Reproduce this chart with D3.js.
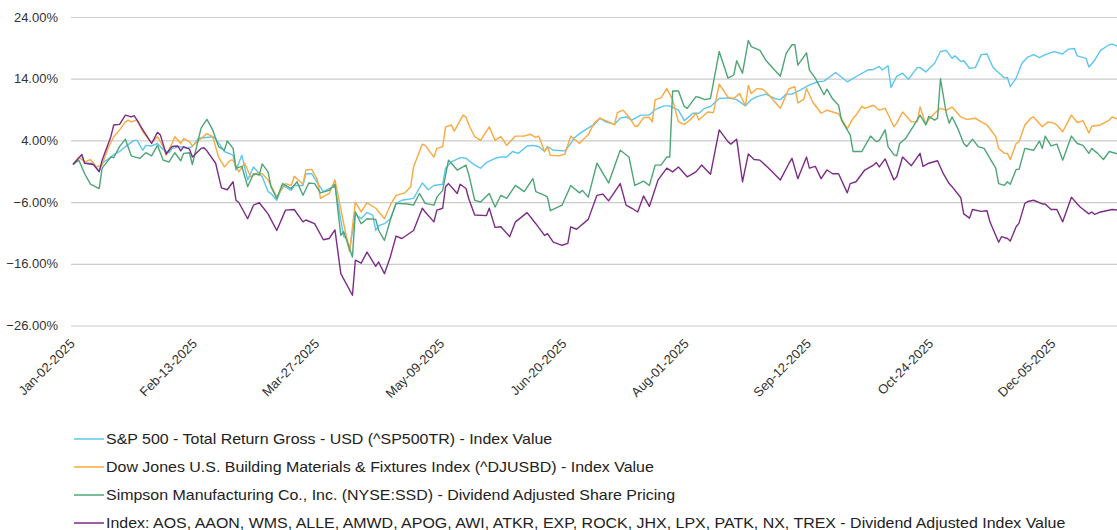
<!DOCTYPE html>
<html>
<head>
<meta charset="utf-8">
<script src="https://cdn.jsdelivr.net/npm/d3@7"></script>
<style>
  body { margin: 0; background: #fff; }
  svg { display: block; font-family: "Liberation Sans", Arial, sans-serif; }
</style>
</head>
<body>
<svg id="chart" width="1117" height="530"></svg>
<script>
// days counted from Jan-02-2025, values are % change
var spxDay = [0,3,4,7,9,10,13,14,16,18,21,22,24,25,27,29,31,33,34,37,39,41,43,48,49,52,55,56,58,60,62,64,65,67,68,70,72,75,76,79,80,82,84,86,88,90,93,94,95,97,99,101,103,104,105,107,109,111,113,117,120,122,124,127,128,130,133,135,138,140,142,145,147,149,151,153,155,156,158,159,160,162,163,165,169,171,172,174,176,178,179,181,183,186,188,190,192,195,198,200,203,205,208,210,213,215,217,219,222,225,228,231,233,235,238,241,243,245,247,250,253,256,258,262,266,270,273,275,277,278,280,281,283,285,287,290,291,293,296,298,300,302,303,305,306,308,310,312,314,316,317,320,321,322,324,326,328,330,332,334,337,340,342,344,345,348,349,351,353,356,357,359];
var spxVal = [0.1,1.7,0.3,0.3,-1,0.3,1.3,1.7,2.2,3.0,4.0,4.0,2.4,3.2,3.1,3.5,2.5,2.0,2.7,3.0,2.7,3.0,4.3,4.6,4.3,2.2,1.6,-0.8,1.6,-2.4,-0.3,-1.4,-1.9,-4.3,-4.6,-5.7,-3.3,-4.1,-3.3,-3.3,-1.4,-1.4,-2.9,-4.3,-3.8,-3.4,-11.6,-11.9,-13.8,-7.9,-8.7,-7.7,-8.1,-10.6,-9.8,-9.5,-8.7,-6.2,-5.7,-5.4,-2.9,-4.0,-3.3,-3.1,-0.5,0.5,1.2,1.1,0,-0.5,0.4,1.1,1.3,1.3,2.2,1.9,2.7,3.1,3.2,3.1,3.0,2.2,3.0,2.4,2.3,3.5,4.3,5.1,5.7,6.3,6.5,7.6,7.0,6.6,7.6,7.8,7.3,8.1,8.1,9.0,9.6,9.6,8.9,7.2,8.4,8.4,9.2,9.5,10.8,10.9,10.6,9.6,10.6,11.1,11.5,10.8,10.6,11.5,11.5,12.2,13.0,13.5,13.6,15.0,13.5,14.6,15.4,15.5,16.0,15.4,16.1,12.6,14.4,14.9,13.9,15.8,15.8,15.1,16.5,18.4,18.6,17.3,17.7,16.8,16.9,15.7,15.8,17.9,18.0,15.9,15.4,14.1,14.2,12.7,14.1,16.5,17.5,17.9,17.4,17.9,18.4,18.0,18.8,18.9,17.7,17.3,15.9,17.0,18.6,19.5,19.6,19.2];

var djusbdDay = [0,2,4,6,8,10,12,14,16,18,19,20,22,24,27,29,31,32,34,35,37,38,40,41,44,46,48,50,52,54,55,57,59,61,63,65,67,70,73,75,76,79,80,82,84,85,88,90,93,95,97,99,101,104,107,109,111,114,116,117,120,121,123,124,125,127,128,130,131,134,135,136,138,140,143,145,147,149,152,155,157,159,160,162,163,164,167,169,171,174,175,177,179,181,184,186,187,189,191,193,194,196,198,199,200,202,204,206,208,210,212,214,215,218,220,222,225,227,229,231,232,233,235,237,239,241,243,246,248,249,251,252,254,257,259,261,263,266,268,269,271,272,275,277,279,282,283,285,288,290,291,293,294,296,298,300,302,305,307,310,312,314,317,318,320,321,322,324,325,327,329,330,333,335,337,338,340,343,345,347,349,350,353,356,357,359];
var djusbdVal = [0.1,1.3,0.5,0.9,-0.3,0,2.7,4.6,5.7,7.0,7.3,7.0,7.3,5.4,3.6,4.6,3.0,1.6,3.5,4.6,3.5,4.3,3.8,3.1,4.3,5.1,4.6,1.3,-0.3,0.8,0.8,-1.1,0.3,-1.9,-1.4,-1.4,-2.4,-5.2,-3.0,-3.3,-1.8,-3.1,-0.8,-0.7,-2.4,-5.4,-4.6,-2.4,-9.5,-14.0,-6.0,-7.6,-6.1,-7.0,-8.7,-6.5,-4.9,-4.5,-3.5,-0.3,3.4,3.2,1.9,1.3,2.7,3.0,6.2,6.5,5.5,8.1,7.8,6.5,4.6,4.0,6.2,4.0,4.6,3.2,4.7,4.7,5.0,4.5,4.7,2.2,3.0,1.6,1.5,1.8,4.7,3.5,4.0,4.9,6.8,7.6,7.0,6.5,8.5,8.9,7.8,6.3,6.3,7.7,7.7,7.0,10.6,10.9,12.4,10.6,7.0,6.6,7.3,8.4,7.3,8.6,8.5,13.1,11.0,10.8,11.6,9.6,12.9,11.6,12.4,12.3,11.4,10.3,9.2,12.4,12.7,10.1,10.6,12.4,10.3,8.4,8.9,8.6,8.3,5.9,7.6,8.1,9.5,9.2,9.7,8.9,9.2,6.2,6.8,8.6,7.0,7.0,9.4,6.6,7.4,8.4,9.2,8.9,9.4,7.8,7.4,7.6,7.0,6.5,4.6,2.7,1.9,1.9,0.9,3.5,3.8,6.5,7.6,7.8,6.2,7.0,6.8,6.5,5.4,8.1,6.9,7.2,5.2,6.3,6.5,7.3,7.8,7.4];

var ssdDay = [0,2,4,6,9,10,13,14,16,18,20,22,23,25,27,29,31,33,35,37,38,40,41,44,46,48,50,52,53,55,56,58,60,62,64,65,67,68,70,72,75,77,79,81,83,85,88,90,92,93,96,97,99,101,104,105,107,109,111,115,117,119,121,124,125,127,129,130,132,135,136,138,140,143,145,147,149,152,155,158,159,162,163,164,168,171,174,175,177,180,184,188,191,193,196,198,200,202,204,205,206,208,210,211,214,215,217,219,222,225,227,228,230,232,233,236,238,241,243,245,247,248,249,252,253,255,258,259,261,263,264,267,268,271,274,276,277,279,280,282,283,284,286,289,291,293,294,296,297,298,300,301,302,304,306,307,309,311,313,315,317,318,320,321,322,324,325,327,330,332,333,334,336,338,340,343,345,347,349,350,352,354,356,359];
var ssdVal = [0.1,0.8,-1.4,-3.1,-3.8,-0.5,1.3,1.2,3.0,4.2,1.5,1.2,1.1,2.0,1.5,3.2,0.8,0.5,2.0,0.7,1.9,2.0,0.1,6.0,7.4,5.7,3.0,2.4,3.9,2.7,-0.5,-0.2,-3.5,-1.4,-1.6,0.2,-1.1,-3.5,-5.4,-3.0,-3.8,-2.7,-4.9,-2.9,-3.0,-4.5,-4.1,-3.1,-11.4,-10.8,-14.9,-7.6,-9.5,-8.7,-8.8,-10.6,-12.2,-8.9,-6.2,-6.3,-6.5,-4.6,-6.2,-6.5,-5.2,-4.1,0.8,0.3,-0.8,0,-1.6,-5.7,-6.0,-4.6,-6.8,-4.9,-5.4,-3.3,-4.3,-2.2,-4.3,-4.9,-5.2,-7.4,-6.5,-3.3,-4.5,-4.1,-5.2,0.3,-2.9,2.4,1.3,-3.3,-2.6,-3.3,0,0,1.3,1.3,12.0,12.0,9.5,9.2,11.1,11.0,10.6,10.8,18.4,14.1,14.6,16.9,14.9,20.2,19.2,18.6,17.0,15.4,14.4,18.1,19.5,19.5,16.2,18.2,15.4,14.1,11.4,12.3,10.7,9.7,7.3,4.9,2.2,2.2,4.7,3.8,4.0,5.7,3.0,1.7,1.5,3.5,4.3,6.5,8.1,6.5,7.9,7.3,7.6,14.0,8.4,6.8,7.8,5.9,3.5,3.0,4.2,3.0,2.7,1.1,-0.5,-3.0,-3.3,-2.7,-3.1,-0.7,-0.7,2.7,2.4,3.9,2.7,4.7,3.1,3.4,0.8,4.7,3.5,3.2,1.9,2.7,1.9,0.9,2.2,1.8];

var peerDay = [0,3,4,7,9,10,13,14,16,18,20,21,22,24,27,29,30,32,34,36,37,38,40,41,44,45,46,49,51,53,55,56,57,60,62,64,67,70,73,76,79,80,83,86,88,90,92,96,97,99,101,104,105,107,109,111,113,117,120,121,124,125,127,128,129,132,133,135,136,138,142,143,145,147,150,152,156,159,162,163,165,168,170,171,173,177,180,182,184,188,190,192,194,196,198,201,204,206,208,211,214,216,217,219,222,225,226,228,230,232,234,236,239,243,246,247,249,252,253,255,257,259,261,263,266,267,269,272,275,276,277,279,282,283,285,288,291,292,294,297,299,301,302,305,306,308,309,312,314,315,318,319,321,322,324,325,327,328,330,333,334,336,338,340,343,345,346,349,350,351,353,355,357,359];
var peerVal = [0.1,1.7,0.3,0.1,-1.1,0.8,4.6,6.5,6.6,8.1,7.8,8.0,7.3,5.7,3.5,5.3,4.9,1.8,3.0,3.1,2.3,3.0,2.6,1.3,2.7,2.8,2.3,0.3,-3.7,-4.0,-2.7,-5.7,-6.1,-8.7,-6.5,-6.1,-7.9,-10.6,-7.3,-7.2,-9.2,-8.9,-9.5,-12.1,-11.9,-10.5,-17.6,-21.1,-15.4,-15.9,-14.1,-16.4,-15.7,-17.6,-14.9,-11.5,-11.9,-10.6,-7.0,-7.6,-9.2,-7.3,-7.0,-3.5,-3.0,-4.6,-3.1,-3.8,-5.5,-8.1,-8.2,-7.0,-10.1,-10.0,-11.6,-9.2,-7.7,-9.5,-11.4,-11.1,-12.5,-13.0,-12.7,-10.0,-10.4,-8.8,-4.9,-4.7,-5.8,-3.0,-6.5,-7.0,-7.6,-5.0,-6.7,-2.4,-0.5,-1.1,-0.3,-1.9,-1.1,0,-0.5,-1.5,5.7,3.8,3.4,4.2,-2.7,1.8,0.9,0.8,-0.5,-2.4,0.3,1.1,-2.2,1.3,-0.5,-0.2,-2.2,-0.8,-1.4,-1.4,-4.5,-3.0,-2.7,-0.8,0,0.4,-0.3,1.0,-2.4,-1.9,1.3,-0.1,1.9,-0.2,0.3,0.7,-1.4,-3.0,-3.5,-5.3,-7.9,-8.6,-7.2,-7.5,-7.4,-9.2,-12.5,-11.6,-11.9,-12.3,-10.0,-9.4,-6.2,-5.9,-5.7,-6.3,-6.3,-7.2,-7.2,-9.2,-5.2,-6.3,-6.8,-7.9,-7.6,-8.0,-7.6,-7.4,-7.2,-7.3];

var seriesNames = [
    'S&P 500 - Total Return Gross - USD (^SP500TR) - Index Value',
    'Dow Jones U.S. Building Materials & Fixtures Index (^DJUSBD) - Index Value',
    'Simpson Manufacturing Co., Inc. (NYSE:SSD) - Dividend Adjusted Share Pricing',
    'Index: AOS, AAON, WMS, ALLE, AMWD, APOG, AWI, ATKR, EXP, ROCK, JHX, LPX, PATK, NX, TREX - Dividend Adjusted Index Value'
];
var seriesColors = ['#5cc6f0', '#f9a93f', '#4ea577', '#7b2d86'];
var xTickLabels = ['Jan-02-2025','Feb-13-2025','Mar-27-2025','May-09-2025','Jun-20-2025','Aug-01-2025','Sep-12-2025','Oct-24-2025','Dec-05-2025'];
var yTicks = [-26, -16, -6, 4, 14, 24];

var startDate = new Date(2025, 0, 2);
var parseLabel = d3.timeParse('%b-%d-%Y');

function toRows(days, vals) {
    return days.map(function(d, i) {
        return {date: d3.timeDay.offset(startDate, d), value: vals[i]};
    });
}

var series = [
    toRows(spxDay, spxVal),
    toRows(djusbdDay, djusbdVal),
    toRows(ssdDay, ssdVal),
    toRows(peerDay, peerVal)
];

var svg = d3.select('#chart');
var svgWidth = +svg.attr('width');

var plot = {l: 71, r: svgWidth, t: 17, b: 325.5};

var x = d3.scaleTime()
    .domain([startDate, d3.timeDay.offset(startDate, 359)])
    .range([73, 1118]);

var y = d3.scaleLinear()
    .domain([-26, 24])
    .range([plot.b, plot.t]);

svg.append('rect')
    .attr('width', svgWidth).attr('height', 530)
    .attr('fill', '#fff');

// horizontal grid + left labels
var yAxis = svg.append('g')
    .attr('transform', 'translate(' + plot.l + ',0)')
    .call(d3.axisLeft(y)
        .tickValues(yTicks)
        .tickSize(-(plot.r - plot.l))
        .tickPadding(13)
        .tickFormat(function(d) { return d3.format('.2f')(d) + '%'; }));
yAxis.select('.domain').remove();
yAxis.selectAll('.tick line')
    .attr('stroke', '#cccccc')
    .attr('stroke-width', 1.2);
yAxis.selectAll('.tick text')
    .attr('fill', '#333')
    .style('font-size', '13px');

// date labels, rotated
var xAxis = svg.append('g')
    .attr('transform', 'translate(0,' + plot.b + ')')
    .call(d3.axisBottom(x)
        .tickValues(xTickLabels.map(parseLabel))
        .tickSize(0)
        .tickFormat(d3.timeFormat('%b-%d-%Y')));
xAxis.select('.domain').remove();
xAxis.selectAll('.tick text')
    .attr('fill', '#333')
    .style('font-size', '13px')
    .attr('text-anchor', 'end')
    .attr('dy', null)
    .attr('y', 0)
    .attr('transform', 'translate(2,19) rotate(-45)');

var line = d3.line()
    .x(function(d) { return x(d.date); })
    .y(function(d) { return y(d.value); });

svg.append('g').selectAll('path')
    .data(series)
    .enter().append('path')
    .attr('d', line)
    .attr('fill', 'none')
    .attr('stroke', function(d, i) { return seriesColors[i]; })
    .attr('stroke-width', 1.4)
    .attr('stroke-linejoin', 'round');

// legend under the chart (text is drawn a bit wide, like the source)
var legend = svg.append('g').selectAll('g')
    .data(seriesNames)
    .enter().append('g')
    .attr('transform', function(d, i) { return 'translate(74,' + (439 + i * 28) + ')'; });

legend.append('line')
    .attr('x1', 0).attr('x2', 30)
    .attr('stroke', function(d, i) { return seriesColors[i]; })
    .attr('stroke-width', 1.5);

legend.append('text')
    .attr('transform', 'translate(32,5) scale(1.14,1)')
    .attr('fill', '#222')
    .style('font-size', '14px')
    .text(function(d) { return d; });
</script>
</body>
</html>
